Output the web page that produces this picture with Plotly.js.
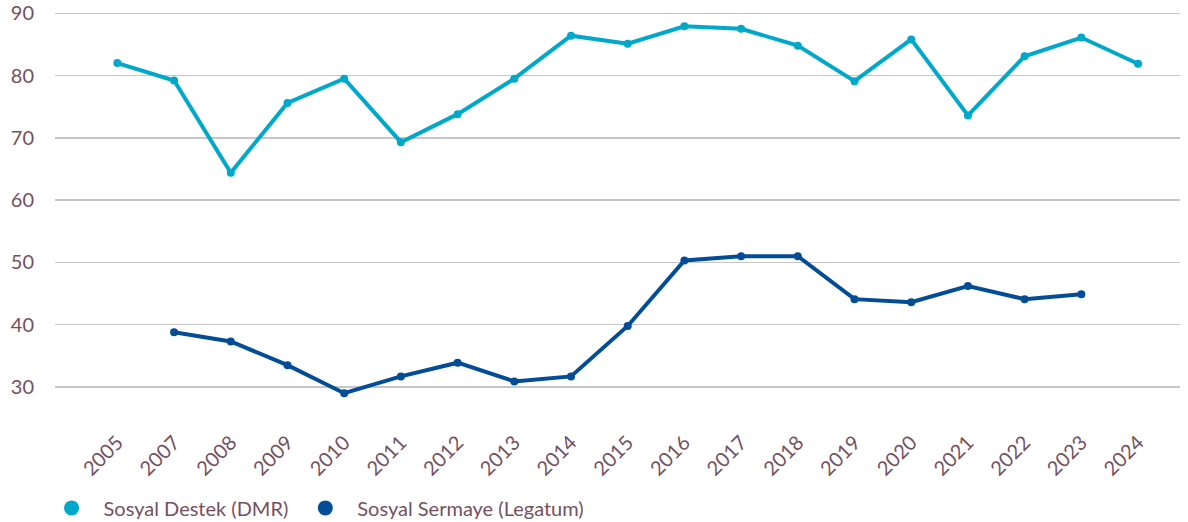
<!DOCTYPE html>
<html>
<head>
<meta charset="utf-8">
<script src="https://cdn.plot.ly/plotly-3.0.1.min.js"></script>
<style>html,body{margin:0;padding:0;background:#fff;}#chart{width:1188px;height:522px;}</style>
</head>
<body>
<div id="chart"></div>
<script>
const years = ["2005","2007","2008","2009","2010","2011","2012","2013","2014","2015","2016","2017","2018","2019","2020","2021","2022","2023","2024"];
const sosyalDestekDMR = [82.0,79.2,64.4,75.6,79.5,69.3,73.8,79.5,86.4,85.1,87.9,87.5,84.8,79.1,85.8,73.6,83.1,86.1,81.9];
const sosyalSermayeLegatum = [null,38.8,37.3,33.5,29.0,31.7,33.9,30.9,31.7,39.8,50.3,51.0,51.0,44.1,43.6,46.2,44.1,44.9,null];
const seriesNames = ["Sosyal Destek (DMR)","Sosyal Sermaye (Legatum)"];
const yTicks = [30,40,50,60,70,80,90];

const c1 = "#00a9c9", c2 = "#034d97", txt = "#76505f";
const font = "Lato, 'Open Sans', sans-serif";

const traces = [
  {x: years, y: sosyalDestekDMR, type: "scatter", mode: "lines+markers", name: seriesNames[0],
   line: {color: c1, width: 4}, marker: {color: c1, size: 8}, showlegend: false, connectgaps: false},
  {x: years, y: sosyalSermayeLegatum, type: "scatter", mode: "lines+markers", name: seriesNames[1],
   line: {color: c2, width: 4}, marker: {color: c2, size: 8}, showlegend: false, connectgaps: false},
  {x: [null], y: [null], type: "scatter", mode: "markers", name: seriesNames[0],
   marker: {color: c1, size: 15}, showlegend: true},
  {x: [null], y: [null], type: "scatter", mode: "markers", name: seriesNames[1],
   marker: {color: c2, size: 15}, showlegend: true}
];

const layout = {
  width: 1188, height: 522,
  margin: {l: 55, r: 8, t: 12, b: 102, autoexpand: false},
  paper_bgcolor: "#fff", plot_bgcolor: "#fff",
  font: {family: font, color: txt, size: 20},
  xaxis: {type: "category", range: [-1.1, 18.74], tickangle: -45, showgrid: false, zeroline: false,
          showline: false, ticks: "", tickfont: {size: 20, color: txt}, ticklabelstandoff: 6},
  yaxis: {range: [24.7, 90.2], tickvals: yTicks, showgrid: true, gridcolor: "#c6c6c6", gridwidth: 1.5,
          zeroline: false, showline: false, ticks: "", tickfont: {size: 20, color: txt}, ticklabelstandoff: 20},
  legend: {orientation: "h", xref: "container", x: 0.0333, xanchor: "left", yref: "container", y: 0.027, yanchor: "middle",
           font: {size: 20, color: txt}, itemwidth: 54,
           bgcolor: "rgba(0,0,0,0)"},
  showlegend: true
};

Plotly.newPlot("chart", traces, layout, {displayModeBar: false, staticPlot: true});
</script>
</body>
</html>
